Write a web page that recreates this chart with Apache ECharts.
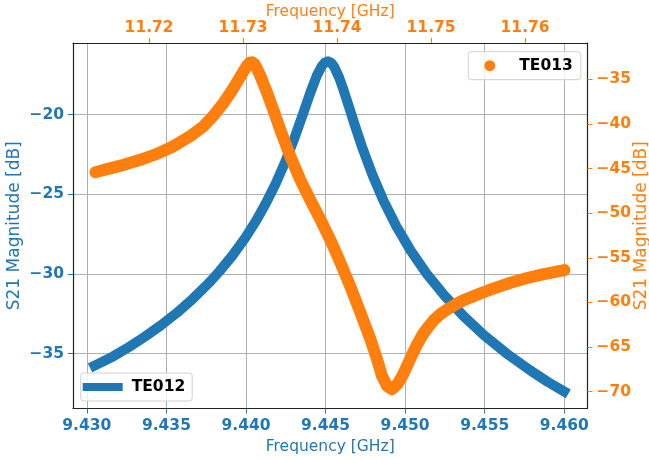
<!DOCTYPE html>
<html><head><meta charset="utf-8">
<script src="https://cdn.jsdelivr.net/npm/echarts@6/dist/echarts.min.js"></script>
<style>html,body{margin:0;padding:0;background:#fff}#c{width:649px;height:461px}</style>
</head><body><div id="c"></div>
<script>
// TE012 (bottom / left axes)
const te012Freq = [9.43048, 9.43165, 9.43265, 9.43365, 9.43465, 9.43565, 9.43665, 9.43765, 9.43835, 9.43915,
  9.43995, 9.44065, 9.44125, 9.44185, 9.44245, 9.44305, 9.44360, 9.44405, 9.44445, 9.44475,
  9.44495, 9.44515, 9.44535, 9.44555, 9.44585, 9.44615, 9.44645, 9.44685, 9.44735, 9.44795,
  9.44865, 9.44945, 9.45035, 9.45135, 9.45245, 9.45365, 9.45495, 9.45635, 9.45785, 9.45895,
  9.45998];
const te012Mag = [-35.75, -35.17, -34.58, -33.93, -33.22, -32.44, -31.56, -30.58, -29.81, -28.84,
  -27.73, -26.63, -25.56, -24.36, -23.00, -21.46, -19.90, -18.60, -17.55, -16.97,
  -16.73, -16.65, -16.74, -17.01, -17.66, -18.51, -19.44, -20.70, -22.19, -23.79,
  -25.42, -27.00, -28.53, -29.97, -31.33, -32.62, -33.83, -34.97, -36.04, -36.76,
  -37.36];
// TE013 (top / right axes)
const te013Freq = [11.71428, 11.71552, 11.71729, 11.71906, 11.72083, 11.72260, 11.72437, 11.72579, 11.72685, 11.72792,
  11.72880, 11.72951, 11.73004, 11.73047, 11.73070, 11.73095, 11.73120, 11.73150, 11.73185, 11.73255,
  11.73327, 11.73397, 11.73504, 11.73610, 11.73716, 11.73822, 11.73929, 11.74035, 11.74141, 11.74248,
  11.74354, 11.74425, 11.74478, 11.74531, 11.74584, 11.74641, 11.74694, 11.74747, 11.74800, 11.74853,
  11.74906, 11.74960, 11.75030, 11.75101, 11.75172, 11.75243, 11.75314, 11.75420, 11.75526, 11.75668,
  11.75845, 11.76022, 11.76200, 11.76419];
const te013Mag = [-45.41, -45.07, -44.59, -44.03, -43.36, -42.50, -41.38, -40.26, -39.07, -37.65,
  -36.27, -35.04, -34.11, -33.42, -33.15, -33.10, -33.30, -33.85, -34.67, -36.53,
  -38.58, -40.71, -43.69, -46.30, -48.54, -50.70, -53.01, -55.55, -58.23, -61.14,
  -64.12, -66.36, -68.23, -69.35, -69.72, -69.16, -68.23, -67.03, -65.80, -64.68,
  -63.68, -62.86, -61.96, -61.29, -60.77, -60.32, -59.91, -59.43, -58.98, -58.42,
  -57.79, -57.26, -56.82, -56.37];
// tick labels
const bottomTicks = [9.430, 9.435, 9.440, 9.445, 9.450, 9.455, 9.460];
const topTicks = [11.72, 11.73, 11.74, 11.75, 11.76];
const leftTicks = [-35, -30, -25, -20];
const rightTicks = [-70, -65, -60, -55, -50, -45, -40, -35];

const BLUE = '#1f77b4', ORANGE = '#ff7f0e', FONT = 'DejaVu Sans', FS = 15.5, YFS = 17;
const frame = {show: true, onZero: false, lineStyle: {color: '#222', width: 1.2}};
const minus = v => String(v).replace('-', '\u2212');

const chart = echarts.init(document.getElementById('c'), null, {renderer: 'canvas'});
chart.setOption({
  animation: false,
  backgroundColor: '#fff',
  grid: {left: 73, right: 61.5, top: 43, bottom: 52.5, containLabel: false, outerBoundsMode: 'none'},
  xAxis: [
    {type: 'value', position: 'bottom', min: 9.42913, max: 9.46146, splitNumber: 6,
     axisLine: frame,
     axisTick: {show: true, length: 5, customValues: bottomTicks, lineStyle: {color: BLUE}},
     axisLabel: {customValues: bottomTicks, formatter: v => v.toFixed(3), color: BLUE, fontWeight: 'bold', fontSize: FS, fontFamily: FONT, margin: 9},
     splitLine: {show: true, lineStyle: {color: '#b0b0b0', width: 1}},
     name: 'Frequency [GHz]', nameLocation: 'middle', nameGap: 30.5, nameMoveOverlap: false,
     nameTextStyle: {color: BLUE, fontSize: FS, fontFamily: FONT}},
    {type: 'value', position: 'top', min: 11.7119, max: 11.76664, splitNumber: 5,
     axisLine: frame,
     axisTick: {show: true, length: 5, customValues: topTicks, lineStyle: {color: ORANGE}},
     axisLabel: {customValues: topTicks, formatter: v => v.toFixed(2), color: ORANGE, fontWeight: 'bold', fontSize: FS, fontFamily: FONT, margin: 7},
     splitLine: {show: false},
     name: 'Frequency [GHz]', nameLocation: 'middle', nameGap: 23.5, nameMoveOverlap: false,
     nameTextStyle: {color: ORANGE, fontSize: FS, fontFamily: FONT}}
  ],
  yAxis: [
    {type: 'value', position: 'left', min: -38.44, max: -15.5, splitNumber: 5,
     axisLine: frame,
     axisTick: {show: true, length: 5, customValues: leftTicks, lineStyle: {color: BLUE}},
     axisLabel: {customValues: leftTicks, formatter: minus, color: BLUE, fontWeight: 'bold', fontSize: FS, fontFamily: FONT, margin: 9},
     splitLine: {show: true, lineStyle: {color: '#b0b0b0', width: 1}},
     name: 'S21 Magnitude [dB]', nameLocation: 'middle', nameGap: 50, nameRotate: 90, nameMoveOverlap: false,
     nameTextStyle: {color: BLUE, fontSize: YFS, fontFamily: FONT}},
    {type: 'value', position: 'right', min: -71.88, max: -30.94, splitNumber: 8,
     axisLine: frame,
     axisTick: {show: true, length: 5, customValues: rightTicks, lineStyle: {color: ORANGE}},
     axisLabel: {customValues: rightTicks, formatter: minus, color: ORANGE, fontWeight: 'bold', fontSize: FS, fontFamily: FONT, margin: 9},
     splitLine: {show: false},
     name: 'S21 Magnitude [dB]', nameLocation: 'middle', nameGap: 45.5, nameRotate: 90, nameMoveOverlap: false,
     nameTextStyle: {color: ORANGE, fontSize: YFS, fontFamily: FONT}}
  ],
  legend: [
    {data: [{name: 'TE012', icon: 'rect'}], left: 80.7, top: 373, orient: 'vertical',
     itemWidth: 40, itemHeight: 8, symbolKeepAspect: false, padding: [5, 7, 5, 2],
     backgroundColor: 'rgba(255,255,255,0.8)', borderColor: '#d0d0d0', borderWidth: 1, borderRadius: 3,
     selectedMode: false, itemStyle: {borderWidth: 0},
     textStyle: {fontWeight: 'bold', fontSize: FS, color: '#000', fontFamily: FONT, padding: [0, 0, 0, 4], lineHeight: 18}},
    {data: [{name: 'TE013', icon: 'circle'}], left: 468.3, top: 51.7, orient: 'vertical',
     itemWidth: 11, itemHeight: 11, padding: [5, 8, 5, 16],
     backgroundColor: 'rgba(255,255,255,0.8)', borderColor: '#d0d0d0', borderWidth: 1, borderRadius: 3,
     selectedMode: false, itemStyle: {borderWidth: 0},
     textStyle: {fontWeight: 'bold', fontSize: FS, color: '#000', fontFamily: FONT, padding: [0, 0, 0, 19], lineHeight: 18}}
  ],
  series: [
    {type: 'line', name: 'TE012', xAxisIndex: 0, yAxisIndex: 0, symbol: 'none', smooth: false,
     data: te012Freq.map((f, i) => [f, te012Mag[i]]),
     lineStyle: {color: BLUE, width: 10, cap: 'square', join: 'round'}, itemStyle: {color: BLUE}, z: 2},
    {type: 'line', name: 'TE013', xAxisIndex: 1, yAxisIndex: 1, symbol: 'none', smooth: false,
     data: te013Freq.map((f, i) => [f, te013Mag[i]]),
     lineStyle: {color: ORANGE, width: 12, cap: 'round', join: 'round'}, itemStyle: {color: ORANGE}, z: 3}
  ]
});
</script></body></html>
